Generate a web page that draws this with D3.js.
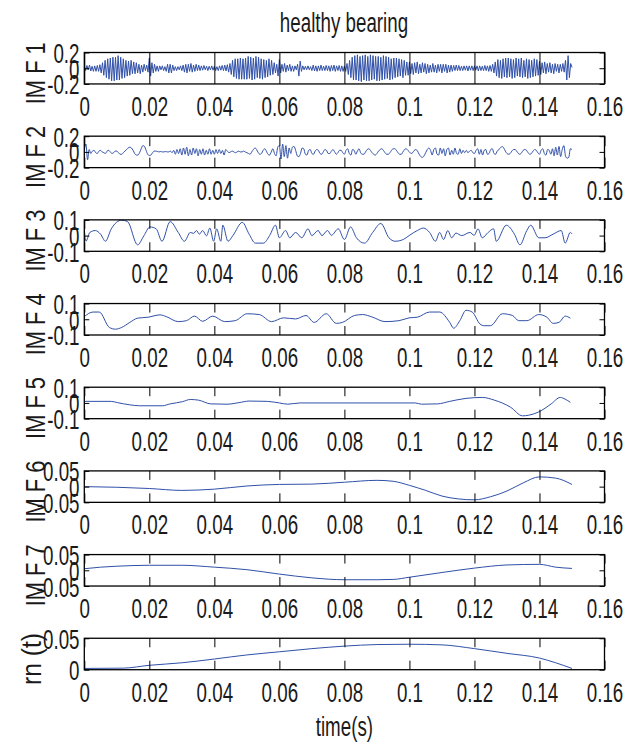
<!DOCTYPE html>
<html>
<head>
<meta charset="utf-8">
<script src="https://cdn.jsdelivr.net/npm/d3@7"></script>
<style>
body { margin: 0; background: #fff; }
</style>
</head>
<body>
<svg id="chart" width="637" height="748"></svg>
<script>
// x axis
var xTicks = [0, 0.02, 0.04, 0.06, 0.08, 0.1, 0.12, 0.14, 0.16];
var xTickLabels = ["0", "0.02", "0.04", "0.06", "0.08", "0.1", "0.12", "0.14", "0.16"];

// IMF 1, sampled every 0.0004 s (one row = 0.01 s)
var imf1 = [
 .03,-.03,.035,-.02,.04,-.035,.025,-.04,.03,-.04,.035,-.04,.045,-.06,.07,-.09,.1,-.12,.12,-.14,.13,-.16,.14,-.16,.14,
 -.15,.16,-.15,.14,-.13,.12,-.12,.1,-.1,.09,-.09,.1,-.07,.08,-.07,.07,-.06,.05,-.07,.04,-.05,.05,-.03,.04,-.05,
 .13,-.1,.07,-.06,.05,-.04,.03,-.04,.03,-.02,.03,-.03,.02,-.04,.05,-.06,.05,-.06,.04,-.03,.02,-.03,.02,-.02,.03,
 -.03,.04,-.05,.05,-.06,.05,-.04,.06,-.05,.04,-.04,.05,-.03,.04,-.03,.03,-.025,.035,-.02,.025,-.03,.025,-.02,.03,-.025,
 .025,-.03,.02,-.03,.03,-.025,.035,-.03,.04,-.035,.045,-.05,.06,-.08,.1,-.11,.12,-.13,.12,-.14,.13,-.14,.12,-.14,.13,
 -.14,.15,-.13,.14,-.15,.13,-.14,.15,-.12,.14,-.13,.12,-.14,.11,-.12,.1,-.11,.12,-.09,.1,-.08,.07,-.06,.05,-.1,
 .11,-.06,.05,-.04,.06,-.05,.04,-.03,.05,-.04,.03,-.04,.03,-.02,.05,-.1,.09,-.04,.03,-.02,.025,-.02,.03,-.02,.02,
 -.03,.04,-.035,.03,-.04,.03,-.03,.04,-.03,.025,-.03,.035,-.03,.03,-.04,.035,-.03,.04,-.04,.03,-.03,.035,-.04,.03,-.04,
 .03,-.04,.06,-.08,.1,-.12,.14,-.15,.16,-.15,.17,-.16,.15,-.17,.16,-.15,.17,-.16,.15,-.16,.17,-.15,.16,-.14,.15,
 -.16,.15,-.16,.14,-.15,.16,-.14,.15,-.13,.14,-.15,.12,-.14,.13,-.12,.13,-.11,.12,-.1,.11,-.12,.1,-.09,.08,-.09,
 .08,-.07,.06,-.08,.07,-.06,.08,-.07,.05,-.06,.07,-.05,.06,-.07,.05,-.06,.04,-.05,.06,-.05,.04,-.06,.05,-.04,.05,
 -.06,.05,-.04,.05,-.06,.04,-.05,.04,-.04,.035,-.03,.04,-.03,.035,-.03,.025,-.03,.03,-.025,.03,-.035,.03,-.025,.03,-.03,
 .03,-.025,.03,-.035,.03,-.03,.025,-.03,.035,-.03,.03,-.04,.035,-.04,.05,-.06,.08,-.1,.11,-.12,.1,-.13,.12,-.11,.13,
 -.12,.13,-.11,.12,-.13,.11,-.12,.13,-.1,.12,-.11,.13,-.12,.1,-.11,.12,-.13,.11,-.12,.1,-.11,.12,-.1,.11,-.09,
 .09,-.08,.07,-.06,.08,-.07,.06,-.05,.07,-.06,.05,-.07,.06,-.04,.05,-.06,.05,-.04,.06,-.05,.1,-.15,.16,-.12,.06,
 .01
];

// IMF 2, sampled every 0.0005 s (one row = 0.01 s)
var imf2 = [
 .02,.1,-.1,.03,-.02,.01,.02,-.01,-.02,.01,.02,0,-.01,-.02,.01,.02,0,-.02,-.01,.01,
 .01,-.01,-.03,-.03,-.01,.01,.03,.05,.06,.05,.02,-.02,-.04,-.04,-.01,.04,.08,.07,.02,-.03,
 -.045,-.04,-.01,.01,.01,.005,0,.005,0,0,.005,0,0,.01,-.01,.02,-.03,.03,-.02,.04,
 -.04,.05,-.03,.06,-.05,.03,-.04,.05,-.02,.04,-.05,.03,-.03,.04,-.04,.02,-.03,.04,-.03,.02,
 -.03,.03,-.02,.03,-.02,.02,-.04,.03,.01,-.01,0,.01,0,-.01,0,.01,0,0,.01,0,
 -.01,-.02,-.03,0,.03,.05,.03,-.01,-.03,-.02,.02,.04,.01,-.03,-.04,0,.04,-.02,-.05,.06,
 .08,-.09,.1,-.06,.08,-.08,.05,-.02,.06,.07,.02,-.05,-.06,-.02,.05,.04,-.03,-.04,.02,.03,
 -.02,-.03,.01,.03,.02,-.02,-.03,0,.03,.02,-.02,-.02,.01,.03,0,-.03,-.01,.02,.02,-.01,
 -.03,.02,.04,-.02,-.04,.03,.02,-.03,.01,.04,-.01,-.03,-.03,0,.03,.04,.02,-.01,-.03,-.04,
 -.02,.01,.03,.04,.02,-.01,-.03,-.03,-.01,.02,.04,.04,.02,-.01,-.03,-.03,0,.03,.04,.02,
 0,-.02,-.01,.02,.03,.01,-.03,-.06,-.07,-.05,-.01,.03,.05,.02,-.04,.03,.05,-.03,-.04,.05,
 -.02,.04,-.05,.03,.05,-.04,.02,-.03,.05,-.02,-.03,.04,-.02,.02,-.01,.02,-.01,.01,.02,-.01,
 -.02,.02,.04,-.03,.03,-.04,.02,.03,-.03,-.02,.03,.04,-.02,-.03,.01,.03,.05,.07,.05,.01,
 -.02,-.03,-.02,.01,.03,.03,.01,-.02,-.03,-.01,.02,.03,.02,-.01,-.03,-.02,.01,.03,.02,-.01,
 -.03,.02,.04,-.02,-.04,.03,.02,-.03,.04,-.05,.06,-.04,.07,-.06,.03,.08,-.05,-.08,-.07,.04,
 .03
];

// IMF 3 .. rn(t): turning points (time, value)
var imf3T = [0,.0005,.0017,.0034,.005,.0065,.0083,.0115,.0133,.0164,.0183,.0202,.0221,.0239,.0264,.0289,.0308,.0326,.0336,.0345,.0354,.0364,.0376,.0386,.0398,.0407,.042,.0426,.0442,.0457,.0486,.0507,.0526,.0551,.057,.0588,.06,.0619,.0632,.065,.0669,.0688,.07,.0719,.0731,.0748,.076,.0781,.08,.0819,.0837,.0862,.0887,.0912,.0937,.0956,.0981,.0999,.1024,.1043,.1062,.108,.1093,.1105,.1118,.113,.1143,.1161,.1186,.1199,.1211,.1224,.1242,.1259,.1267,.1298,.1323,.134,.1361,.1373,.1398,.1417,.1442,.1467,.1479,.1495,.15];
var imf3V = [.043,-.036,.02,.032,.009,-.036,.043,.098,.089,-.059,-.002,.055,.043,-.036,.089,.02,-.036,.02,.014,.032,.009,.032,-.002,.048,-.036,.043,-.036,.066,-.036,0,.084,.009,-.048,-.048,0,.066,-.014,.032,-.014,.02,-.014,.043,0,.032,0,.032,.002,.043,-.025,.055,-.014,-.048,.02,.077,-.014,-.036,-.025,0,.032,.048,.02,-.036,.02,-.025,.032,-.014,.016,0,.02,.002,.043,-.014,.02,.043,-.036,.066,.009,-.059,.032,.066,-.014,-.014,.009,.032,-.048,.02,.01];

var imf4T = [0,.0027,.0046,.0077,.0096,.0115,.014,.0164,.0196,.0233,.0252,.0289,.0314,.0339,.0364,.0395,.0432,.0464,.0501,.0538,.0576,.0613,.065,.0682,.0707,.0744,.0775,.0794,.0831,.0856,.0887,.0925,.0968,.0999,.1024,.1062,.1093,.1124,.1136,.1155,.1174,.1193,.1217,.123,.1249,.1286,.1317,.1336,.1361,.1398,.1423,.1442,.146,.1479,.1495];
var imf4V = [.017,.046,.046,-.052,-.063,-.052,-.02,.007,.013,.028,.017,-.015,-.009,.02,-.013,.02,-.015,-.009,.035,.03,-.015,.009,.002,.024,-.02,.035,-.026,-.02,.024,.03,.013,-.015,-.009,.009,.013,.046,.046,-.02,-.057,-.009,.057,.046,-.03,-.041,-.041,.035,.024,-.009,-.009,.03,.013,-.026,-.02,.02,.007];

var imf5T = [0,.0083,.0102,.014,.017,.024,.0264,.0302,.0326,.0351,.0389,.0439,.0476,.0507,.0563,.06,.0626,.0663,.1018,.1037,.1087,.1124,.1174,.1224,.1261,.1311,.1348,.1367,.1398,.1436,.1464,.1479,.1495];
var imf5V = [.01,.01,.002,-.012,-.018,-.018,-.006,.008,.022,.018,-.006,-.008,.002,.012,.01,0,-.008,0,0,-.008,-.006,.01,.029,.035,.018,-.027,-.082,-.078,-.057,-.006,.035,.024,.004];

var imf6T = [0,.01,.02,.03,.04,.05,.06,.07,.08,.09,.095,.1,.105,.11,.115,.12,.125,.13,.135,.14,.145,.15];
var imf6V = [0,-.002,-.006,-.012,-.008,.002,.007,.008,.014,.02,.017,.004,-.012,-.03,-.039,-.042,-.032,-.014,.012,.031,.027,.007];

var imf7T = [0,.005,.01,.02,.03,.04,.05,.06,.07,.08,.09,.095,.1,.11,.12,.13,.14,.145,.15];
var imf7V = [.005,.01,.013,.016,.016,.01,.002,-.012,-.024,-.03,-.03,-.029,-.022,-.007,.007,.017,.019,.01,.006];

var rnT = [0,.012,.02,.03,.04,.05,.06,.07,.08,.09,.1,.11,.12,.13,.14,.145,.15];
var rnV = [.002,.0025,.007,.011,.017,.0235,.0285,.0335,.0375,.04,.0405,.0395,.0335,.026,.0185,.011,.002];

var tEnd = 0.15;

function uniform(vals) {
  var step = tEnd / (vals.length - 1);
  return vals.map(function(v, i) { return [i * step, v]; });
}
function paired(ts, vs) {
  return ts.map(function(t, i) { return [t, vs[i]]; });
}

var panels = [
  {name: "IM F 1", data: uniform(imf1), ylim: [-0.2, 0.2], yTicks: [-0.2, 0, 0.2], yLabels: ["-0.2", "0", "0.2"], curve: d3.curveLinear, tick: 16},
  {name: "IM F 2", data: uniform(imf2), ylim: [-0.2, 0.2], yTicks: [-0.2, 0, 0.2], yLabels: ["-0.2", "0", "0.2"], curve: d3.curveMonotoneX, tick: 10},
  {name: "IM F 3", data: paired(imf3T, imf3V), ylim: [-0.1, 0.1], yTicks: [-0.1, 0, 0.1], yLabels: ["-0.1", "0", "0.1"], curve: d3.curveMonotoneX, tick: 9},
  {name: "IM F 4", data: paired(imf4T, imf4V), ylim: [-0.1, 0.1], yTicks: [-0.1, 0, 0.1], yLabels: ["-0.1", "0", "0.1"], curve: d3.curveMonotoneX, tick: 9},
  {name: "IM F 5", data: paired(imf5T, imf5V), ylim: [-0.1, 0.1], yTicks: [-0.1, 0, 0.1], yLabels: ["-0.1", "0", "0.1"], curve: d3.curveMonotoneX, tick: 9},
  {name: "IM F 6", data: paired(imf6T, imf6V), ylim: [-0.05, 0.05], yTicks: [-0.05, 0, 0.05], yLabels: ["-0.05", "0", "0.05"], curve: d3.curveMonotoneX, tick: 9},
  {name: "IM F 7", data: paired(imf7T, imf7V), ylim: [-0.05, 0.05], yTicks: [-0.05, 0, 0.05], yLabels: ["-0.05", "0", "0.05"], curve: d3.curveMonotoneX, tick: 9},
  {name: "rn (t)", data: paired(rnT, rnV), ylim: [0, 0.05], yTicks: [0, 0.05], yLabels: ["0", "0.05"], curve: d3.curveMonotoneX, tick: 9}
];

var svg = d3.select("#chart");
var fontFam = "'Liberation Sans', Arial, Helvetica, sans-serif";
var fontSize = 28, squeeze = 0.67;
var ink = "#1a1a1a", lineColor = "#3050a8";

var left = 84.3, right = 604.5;
var top0 = 52.5, step = 83.68, ph = 31.45;

var x = d3.scaleLinear().domain([0, 0.16]).range([left, right]);

function styleAxis(g) {
  g.attr("font-family", fontFam).attr("font-size", fontSize).attr("color", "#000");
  g.select(".domain").remove();
  g.selectAll(".tick line").attr("stroke-width", 1);
}

panels.forEach(function(p, i) {
  var top = top0 + step * i, bot = top + ph;
  var y = d3.scaleLinear().domain(p.ylim).range([bot, top]);
  var g = svg.append("g");

  g.append("clipPath").attr("id", "clip" + i)
    .append("rect").attr("x", left).attr("y", top).attr("width", right - left).attr("height", ph);

  var line = d3.line().x(function(d) { return x(d[0]); }).y(function(d) { return y(d[1]); }).curve(p.curve);
  g.append("path").datum(p.data)
    .attr("d", line)
    .attr("fill", "none")
    .attr("stroke", lineColor)
    .attr("stroke-width", 1)
    .attr("clip-path", "url(#clip" + i + ")");

  // ticks point inwards, on all four sides
  var gb = g.append("g").attr("transform", "translate(0," + bot + ")")
    .call(d3.axisBottom(x).tickValues(xTicks).tickFormat(function(d, k) { return xTickLabels[k]; })
      .tickSizeInner(-p.tick).tickSizeOuter(0));
  styleAxis(gb);
  gb.selectAll(".tick text").attr("x", null).attr("y", null).attr("dy", null)
    .attr("fill", ink)
    .attr("transform", "translate(0,32) scale(" + squeeze + ",1)");

  var gt = g.append("g").attr("transform", "translate(0," + top + ")")
    .call(d3.axisTop(x).tickValues(xTicks).tickFormat("").tickSizeInner(-p.tick).tickSizeOuter(0));
  styleAxis(gt);

  var gl = g.append("g").attr("transform", "translate(" + left + ",0)")
    .call(d3.axisLeft(y).tickValues(p.yTicks).tickFormat(function(d, k) { return p.yLabels[k]; })
      .tickSizeInner(-5).tickSizeOuter(0));
  styleAxis(gl);
  gl.selectAll(".tick text").attr("x", null).attr("y", null).attr("dy", null)
    .attr("fill", ink)
    .attr("transform", "translate(-4.8,10) scale(" + squeeze + ",1)");

  var gr = g.append("g").attr("transform", "translate(" + right + ",0)")
    .call(d3.axisRight(y).tickValues(p.yTicks).tickFormat("").tickSizeInner(-5).tickSizeOuter(0));
  styleAxis(gr);

  g.append("rect")
    .attr("x", left).attr("y", top).attr("width", right - left).attr("height", ph)
    .attr("fill", "none").attr("stroke", "#000").attr("stroke-width", 1.3);

  // y label, rotated
  var yl = g.append("text").text(p.name)
    .attr("font-family", fontFam).attr("font-size", fontSize).attr("fill", ink)
    .attr("text-anchor", "middle");
  var want = p.name.charAt(0) === "r" ? 52 : 62;
  var s = want / yl.node().getComputedTextLength();
  var bx = p.name.charAt(0) === "r" ? 40.5 : 45;
  yl.attr("transform", "translate(" + bx + "," + (top + ph / 2 + 5) + ") rotate(-90) scale(" + s + ",1)");
});

// title and x label
svg.append("text").text("healthy bearing")
  .attr("font-family", fontFam).attr("font-size", fontSize).attr("fill", ink)
  .attr("text-anchor", "middle")
  .attr("transform", "translate(344,32) scale(" + squeeze + ",1)");

svg.append("text").text("time(s)")
  .attr("font-family", fontFam).attr("font-size", fontSize).attr("fill", ink)
  .attr("text-anchor", "middle")
  .attr("transform", "translate(" + ((left + right) / 2) + ",736) scale(" + squeeze + ",1)");
</script>
</body>
</html>
